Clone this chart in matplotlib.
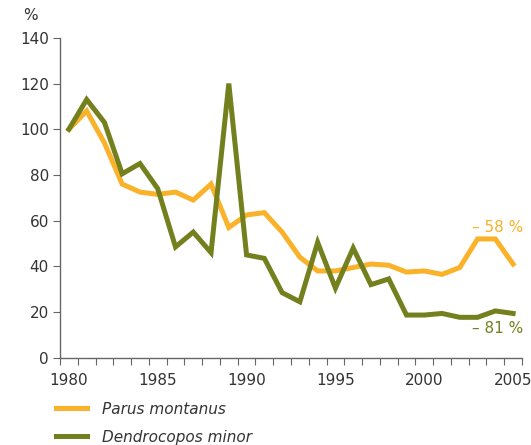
import matplotlib.pyplot as plt
import numpy as np

years = np.arange(1980, 2006)
parus_montanus = [100, 108, 94, 76, 72.5, 71.5, 72.5, 69, 76, 57, 62.5, 63.5, 55, 44, 38, 38,
                  39.5, 41, 40.5, 37.5, 38, 36.5, 39.5, 52, 52, 41]
dendrocopos_minor = [100, 113, 103, 80.5, 85, 74, 48.5, 55, 46, 120, 45, 43.5, 28.5, 24.5, 50.5,
                     30.5, 48, 32, 34.5, 18.7, 18.7, 19.4, 17.7, 17.7, 20.5, 19.4]
end_labels = ["\u2013 58 %", "\u2013 81 %"]

orange = '#f9b229'
olive = '#74801e'
text_col = '#333333'
axis_col = '#666666'

fig = plt.figure(figsize=(5.31, 4.45), dpi=100)
ax = fig.add_axes([0.113, 0.196, 0.87, 0.719])

ax.plot(years, parus_montanus, color=orange, linewidth=3.6, solid_joinstyle='miter',
        label='Parus montanus')
ax.plot(years, dendrocopos_minor, color=olive, linewidth=3.6, solid_joinstyle='miter',
        label='Dendrocopos minor')

ax.set_xlim(1979.5, 2005.5)
ax.set_ylim(0, 140)
ax.set_yticks(np.arange(0, 141, 20))
ax.set_xticks(np.arange(1980, 2006, 5))
ax.set_xticks(np.arange(1979.5, 2006, 1), minor=True)
ax.tick_params(axis='x', which='major', length=0, pad=11, labelsize=11, labelcolor=text_col)
ax.tick_params(axis='x', which='minor', length=5, width=0.8, color=axis_col)
ax.tick_params(axis='y', length=5, width=0.8, color=axis_col, labelsize=11, labelcolor=text_col, pad=3)

for side in ['top', 'right']:
    ax.spines[side].set_visible(False)
for side in ['left', 'bottom']:
    ax.spines[side].set_color(axis_col)
    ax.spines[side].set_linewidth(1.0)

ax.text(-0.065, 1.07, '%', transform=ax.transAxes, fontsize=11, color=text_col,
        ha='center', va='center')

ax.text(2005.6, 57, end_labels[0], color=orange, fontsize=11, ha='right', va='center')
ax.text(2005.6, 13, end_labels[1], color=olive, fontsize=11, ha='right', va='center')

leg = fig.legend(loc='lower left', bbox_to_anchor=(0.08, -0.03), frameon=False,
                 prop={'style': 'italic', 'size': 11}, handlelength=2.0, handletextpad=1.0,
                 labelspacing=0.85)
for t in leg.get_texts():
    t.set_color(text_col)

fig.savefig('out.png', dpi=100)
